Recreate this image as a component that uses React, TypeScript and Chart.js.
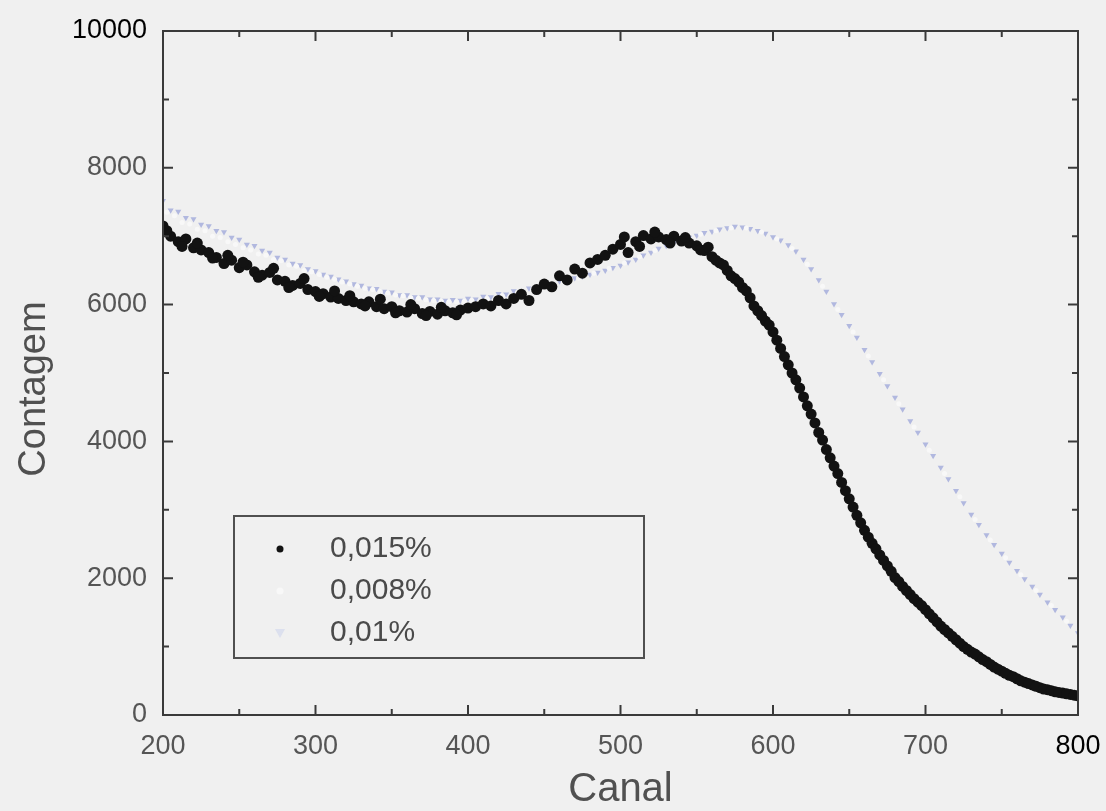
import React, { useEffect, useRef } from "react";
import { Chart, registerables } from "chart.js";

Chart.register(...registerables);

const channels = [
  200, 205, 210, 215, 220, 225, 230, 235, 240, 245, 250, 255, 260, 265, 270, 275, 280, 285, 290, 295,
  300, 305, 310, 315, 320, 325, 330, 335, 340, 345, 350, 355, 360, 365, 370, 375, 380, 385, 390, 395,
  400, 405, 410, 415, 420, 425, 430, 435, 440, 445, 450, 455, 460, 465, 470, 475, 480, 485, 490, 495,
  500, 505, 510, 515, 520, 525, 530, 535, 540, 545, 550, 555, 560, 565, 570, 575, 580, 585, 590, 595,
  600, 605, 610, 615, 620, 625, 630, 635, 640, 645, 650, 655, 660, 665, 670, 675, 680, 685, 690, 695,
  700, 705, 710, 715, 720, 725, 730, 735, 740, 745, 750, 755, 760, 765, 770, 775, 780, 785, 790, 795,
  800,
];

const counts015 = [
  7150, 7000, 6920, 6960, 6830, 6800, 6760, 6690, 6600, 6650, 6540, 6580, 6480, 6430, 6470, 6360, 6340, 6280, 6310, 6220,
  6190, 6160, 6110, 6090, 6060, 6040, 6010, 6040, 5970, 5940, 5970, 5910, 5890, 5940, 5870, 5900, 5860, 5910, 5880, 5920,
  5950, 5970, 6010, 5980, 6060, 6010, 6090, 6150, 6060, 6220, 6300, 6260, 6420, 6360, 6520, 6460, 6610, 6660, 6720, 6810,
  6880, 6760, 6920, 7010, 6960, 6990, 6950, 7000, 6930, 6900, 6860, 6790, 6700, 6610, 6500, 6380, 6250, 6100, 5910, 5760,
  5600, 5360, 5120, 4900, 4650, 4400, 4130, 3880, 3640, 3400, 3160, 2920, 2700, 2510, 2340, 2180, 2010, 1880, 1760, 1650,
  1540, 1420, 1300, 1200, 1100, 1000, 920, 850, 780, 700, 640, 580, 530, 480, 440, 400, 370, 340, 320, 300,
  280,
];

// extra readings of the 0,015% series
const channels015b = [
  202.5, 212.5, 222.5, 232.5, 242.5, 252.5, 262.5, 272.5, 282.5, 292.5, 302.5, 312.5, 322.5, 332.5, 342.5,
  352.5, 362.5, 372.5, 382.5, 392.5, 502.5, 512.5, 522.5, 532.5, 542.5, 552.5, 557.5, 562.5, 567.5, 572.5,
  577.5, 582.5, 587.5, 592.5, 597.5, 602.5, 607.5, 612.5, 617.5, 622.5, 627.5, 632.5, 637.5, 642.5, 647.5,
  652.5, 657.5, 662.5, 667.5, 672.5, 677.5, 682.5, 687.5, 692.5, 697.5, 702.5, 707.5, 712.5, 717.5, 722.5,
  727.5, 732.5, 737.5, 742.5, 747.5, 752.5, 757.5, 762.5, 767.5, 772.5, 777.5, 782.5, 787.5, 792.5, 797.5,
];

const counts015b = [
  7080, 6850, 6900, 6680, 6720, 6620, 6400, 6530, 6250, 6380, 6120, 6200, 6130, 5980, 6080,
  5880, 6000, 5840, 5960, 5850, 6990, 6850, 7060, 6900, 6980, 6800, 6840, 6650, 6580, 6420,
  6330, 6200, 5980, 5840, 5700, 5480, 5240, 5000, 4780, 4520, 4270, 4020, 3760, 3530, 3280,
  3040, 2810, 2600, 2430, 2260, 2100, 1950, 1820, 1700, 1600, 1480, 1360, 1250, 1150, 1050,
  960, 890, 810, 740, 670, 610, 560, 500, 460, 420, 380, 355, 330, 310, 290,
];

const counts01 = [
  7520, 7380, 7360, 7270, 7250, 7170, 7150, 7080, 7060, 6980, 6950, 6880, 6860, 6790, 6760, 6690, 6660, 6600, 6580, 6520,
  6490, 6440, 6410, 6370, 6340, 6300, 6280, 6240, 6230, 6190, 6180, 6140, 6140, 6110, 6110, 6080, 6080, 6060, 6070, 6060,
  6090, 6080, 6120, 6110, 6160, 6150, 6200, 6190, 6240, 6250, 6290, 6300, 6340, 6360, 6390, 6410, 6440, 6470, 6500, 6540,
  6570, 6620, 6660, 6720, 6760, 6820, 6860, 6900, 6940, 6980, 7010, 7050, 7070, 7100, 7120, 7140, 7130, 7110, 7080, 7040,
  6990, 6940, 6870, 6780, 6660, 6520, 6360, 6190, 6010, 5850, 5690, 5520, 5340, 5160, 4990, 4810, 4640, 4470, 4300, 4130,
  3960, 3790, 3620, 3450, 3280, 3100, 2930, 2780, 2630, 2490, 2360, 2230, 2110, 1990, 1880, 1760, 1650, 1540, 1430, 1310,
  1200,
];

const channels008 = [
  202.5, 207.5, 212.5, 217.5, 222.5, 227.5, 232.5, 237.5, 242.5, 247.5, 252.5, 257.5, 262.5, 267.5, 272.5, 277.5,
  282.5, 287.5, 292.5, 297.5, 302.5, 307.5, 312.5, 317.5, 322.5, 327.5, 332.5, 337.5, 342.5, 347.5, 352.5, 357.5,
  362.5, 367.5, 372.5, 377.5, 382.5, 387.5, 392.5, 397.5, 402.5, 412.5, 422.5, 432.5, 442.5, 452.5, 462.5, 472.5,
  482.5, 492.5, 502.5, 512.5, 522.5, 532.5, 542.5, 552.5, 562.5, 572.5, 582.5, 592.5, 602.5, 612.5, 622.5, 632.5,
  642.5, 652.5, 662.5, 672.5, 682.5, 692.5, 702.5, 712.5, 722.5, 732.5, 742.5, 752.5, 762.5, 772.5, 782.5, 792.5,
];

const counts008 = [
  7350, 7300, 7200, 7180, 7100, 7080, 7000, 6980, 6920, 6880, 6830, 6800, 6740, 6720, 6660, 6640,
  6580, 6560, 6500, 6480, 6440, 6400, 6370, 6330, 6300, 6270, 6240, 6220, 6190, 6170, 6140, 6130,
  6100, 6090, 6070, 6060, 6050, 6040, 6040, 6050, 6060, 6090, 6130, 6180, 6230, 6280, 6330, 6390,
  6460, 6530, 6610, 6700, 6790, 6880, 6960, 7030, 7080, 7120, 7120, 7060, 6960, 6820, 6590, 6270,
  5930, 5600, 5250, 4900, 4550, 4210, 3870, 3530, 3190, 2860, 2560, 2300, 2050, 1820, 1600, 1370,
];

const seriesLabels = ["0,015%", "0,008%", "0,01%"];
const xTicks = [200, 300, 400, 500, 600, 700, 800];
const yTicks = [0, 2000, 4000, 6000, 8000, 10000];
const yTitle = "Contagem";
const xTitle = "Canal";

const FONT = "'Liberation Sans', Arial, sans-serif";
const BG = "#f0f0f0";

const framePlugin = {
  id: "framePlugin",
  afterDatasetsDraw(chart: any) {
    const { ctx, chartArea, scales } = chart;
    const { left, right, top, bottom } = chartArea;
    const xs = scales.x;
    const ys = scales.y;
    ctx.save();
    ctx.strokeStyle = "#3a3a3a";
    ctx.lineWidth = 2;
    ctx.strokeRect(left, top, right - left, bottom - top);
    const major = 10;
    const minor = 6;
    ctx.beginPath();
    for (let i = 0; i < xTicks.length; i++) {
      const px = xs.getPixelForValue(xTicks[i]);
      ctx.moveTo(px, bottom); ctx.lineTo(px, bottom - major);
      ctx.moveTo(px, top); ctx.lineTo(px, top + major);
      if (i < xTicks.length - 1) {
        const pm = xs.getPixelForValue((xTicks[i] + xTicks[i + 1]) / 2);
        ctx.moveTo(pm, bottom); ctx.lineTo(pm, bottom - minor);
        ctx.moveTo(pm, top); ctx.lineTo(pm, top + minor);
      }
    }
    for (let i = 0; i < yTicks.length; i++) {
      const py = ys.getPixelForValue(yTicks[i]);
      ctx.moveTo(left, py); ctx.lineTo(left + major, py);
      ctx.moveTo(right, py); ctx.lineTo(right - major, py);
      if (i < yTicks.length - 1) {
        const pm = ys.getPixelForValue((yTicks[i] + yTicks[i + 1]) / 2);
        ctx.moveTo(left, pm); ctx.lineTo(left + minor, pm);
        ctx.moveTo(right, pm); ctx.lineTo(right - minor, pm);
      }
    }
    ctx.stroke();

    // y axis title
    ctx.save();
    ctx.translate(35, (top + bottom) / 2 + 16);
    ctx.rotate(-Math.PI / 2);
    ctx.font = `38px ${FONT}`;
    ctx.fillStyle = "#505050";
    ctx.textAlign = "center";
    ctx.textBaseline = "middle";
    ctx.fillText(yTitle, 0, 0);
    ctx.restore();

    // legend box
    const bx = left + 71;
    const by = top + 485;
    const bw = 410;
    const bh = 142;
    ctx.fillStyle = BG;
    ctx.fillRect(bx, by, bw, bh);
    ctx.strokeStyle = "#505050";
    ctx.lineWidth = 2;
    ctx.strokeRect(bx, by, bw, bh);
    ctx.font = `30px ${FONT}`;
    ctx.textBaseline = "middle";
    ctx.textAlign = "left";
    const rows = [by + 33, by + 75, by + 117];
    chart.data.datasets.forEach((ds: any, i: number) => {
      const mx = bx + 46;
      const my = rows[i];
      ctx.fillStyle = i === 2 ? "rgba(200,208,235,0.5)" : ds.backgroundColor;
      ctx.beginPath();
      if (i === 2) {
        ctx.moveTo(mx - 5, my - 4);
        ctx.lineTo(mx + 5, my - 4);
        ctx.lineTo(mx, my + 5);
        ctx.closePath();
      } else {
        ctx.arc(mx, my, 3.5, 0, Math.PI * 2);
      }
      ctx.fill();
      ctx.fillStyle = "#4a4a4a";
      ctx.fillText(ds.label, bx + 96, my);
    });
    ctx.restore();
  },
};

export default function App() {
  const canvasRef = useRef<HTMLCanvasElement | null>(null);

  useEffect(() => {
    if (!canvasRef.current) return;
    const black = channels
      .map((c, i) => ({ x: c, y: counts015[i] }))
      .concat(channels015b.map((c, i) => ({ x: c, y: counts015b[i] })));
    const chart = new Chart(canvasRef.current, {
      type: "scatter",
      data: {
        datasets: [
          {
            label: seriesLabels[0],
            data: black,
            backgroundColor: "#121212",
            borderColor: "#121212",
            pointRadius: 5.5,
            borderWidth: 0,
          },
          {
            label: seriesLabels[1],
            data: channels008.map((c, i) => ({ x: c, y: counts008[i] })),
            backgroundColor: "#f8f8f8",
            borderColor: "#f8f8f8",
            pointRadius: 2.5,
            borderWidth: 0,
          },
          {
            label: seriesLabels[2],
            data: channels.map((c, i) => ({ x: c, y: counts01[i] })),
            backgroundColor: "rgba(150,160,215,0.7)",
            borderColor: "rgba(150,160,215,0.7)",
            pointRadius: 3.5,
            pointStyle: "triangle",
            rotation: 180,
            borderWidth: 0,
          },
        ],
      },
      options: {
        animation: false,
        responsive: false,
        maintainAspectRatio: false,
        layout: { padding: { top: 31, right: 28, left: 0, bottom: 0 } },
        plugins: {
          legend: { display: false },
          tooltip: { enabled: false },
        },
        scales: {
          x: {
            type: "linear",
            min: 200,
            max: 800,
            afterBuildTicks: (scale: any) => {
              scale.ticks = xTicks.map((v) => ({ value: v }));
            },
            afterFit: (scale: any) => {
              scale.height = 96;
              scale.paddingLeft = 0;
              scale.paddingRight = 0;
            },
            grid: { display: false },
            border: { display: false },
            ticks: {
              padding: 7,
              callback: (v: any) => String(v),
              color: (ctx: any) => (ctx.tick && ctx.tick.value === 800 ? "#000" : "#555"),
              font: { family: FONT, size: 27 },
            },
            title: {
              display: true,
              text: xTitle,
              color: "#505050",
              font: { family: FONT, size: 40 },
              padding: { top: 0, bottom: -3 },
            },
          },
          y: {
            type: "linear",
            min: 0,
            max: 10000,
            afterBuildTicks: (scale: any) => {
              scale.ticks = yTicks.map((v) => ({ value: v }));
            },
            afterFit: (scale: any) => {
              scale.width = 163;
              scale.paddingTop = 0;
              scale.paddingBottom = 0;
            },
            grid: { display: false },
            border: { display: false },
            ticks: {
              padding: 8,
              callback: (v: any) => String(v),
              color: (ctx: any) => (ctx.tick && ctx.tick.value === 10000 ? "#000" : "#555"),
              font: { family: FONT, size: 27 },
            },
            title: { display: false },
          },
        },
      },
      plugins: [framePlugin],
    });
    return () => chart.destroy();
  }, []);

  return (
    <div style={{ position: "fixed", left: 0, top: 0, width: 1106, height: 811, background: BG }}>
      <canvas ref={canvasRef} width={1106} height={811} style={{ display: "block" }} />
    </div>
  );
}
